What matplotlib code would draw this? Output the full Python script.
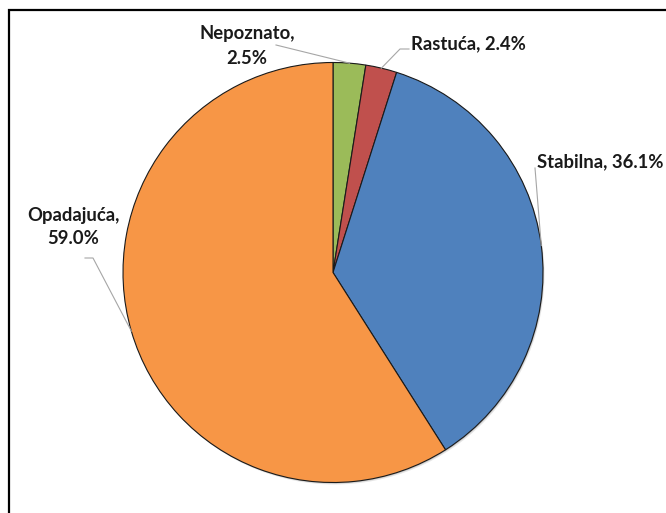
import numpy as np
import matplotlib
matplotlib.use("Agg")
import matplotlib.pyplot as plt
from matplotlib.patches import Rectangle

categories = ["Nepoznato", "Rastuća", "Stabilna", "Opadajuća"]
values = [2.5, 2.4, 36.1, 59.0]
colors = ["#9BBB59", "#C0504D", "#4F81BD", "#F79646"]

W, H = 666, 513
fig = plt.figure(figsize=(W / 100, H / 100), dpi=100)
ax = fig.add_axes([0, 0, 1, 1])

cx, cy, R = 333, H - 272.5, 210

# subtle shadow
for dx, dy, a in [(1.5, -2.0, 0.10), (0.8, -1.0, 0.15)]:
    ax.add_patch(plt.Circle((cx + dx, cy + dy), R, color="black", alpha=a, lw=0, zorder=0))

wedges, _ = ax.pie(values, colors=colors, startangle=90, counterclock=False,
                   center=(cx, cy), radius=R, frame=True,
                   wedgeprops=dict(edgecolor="#1a1a1a", linewidth=0.8))
for w in wedges:
    w.set_zorder(1)

ax.set_xlim(0, W)
ax.set_ylim(0, H)
ax.set_aspect("equal")
ax.axis("off")

# frame
fig.patches.append(Rectangle((8.5 / W, -0.1), 1.2, (H - 9.5) / H + 0.1,
                             transform=fig.transFigure, fill=False,
                             edgecolor="black", linewidth=1.6))

font = dict(family="Lato", weight="bold", size=13.3, color="#1a1a1a")

layout = {
    "Nepoznato": dict(pos=(247, 46), ha="center", two=True, lead=[(276, 45)]),
    "Rastuća": dict(pos=(411, 44), ha="left", two=False, lead=[(409, 49), (400, 49)]),
    "Stabilna": dict(pos=(537, 162), ha="left", two=False, lead=[(535, 168)]),
    "Opadajuća": dict(pos=(73, 227), ha="center", two=True, lead=[(85, 258), (93, 258)]),
}

cum = 0.0
total = sum(values)
for cat, val in zip(categories, values):
    mid = cum + val / 2
    cum += val
    ang = np.deg2rad(90 - 360 * mid / total)
    ex, ey = cx + R * np.cos(ang), cy + R * np.sin(ang)
    L = layout[cat]
    sep = ",\n" if L["two"] else ", "
    txt = f"{cat}{sep}{val:.1f}%"
    tx, ty = L["pos"]
    ax.text(tx, H - ty, txt, ha=L["ha"], va="center", linespacing=1.5, **font)
    pts = [(x, H - y) for x, y in L["lead"]] + [(ex, ey)]
    xs, ys = zip(*pts)
    ax.plot(xs, ys, color="#A6A6A6", lw=0.8, zorder=3)

fig.savefig("out.png", dpi=100)
